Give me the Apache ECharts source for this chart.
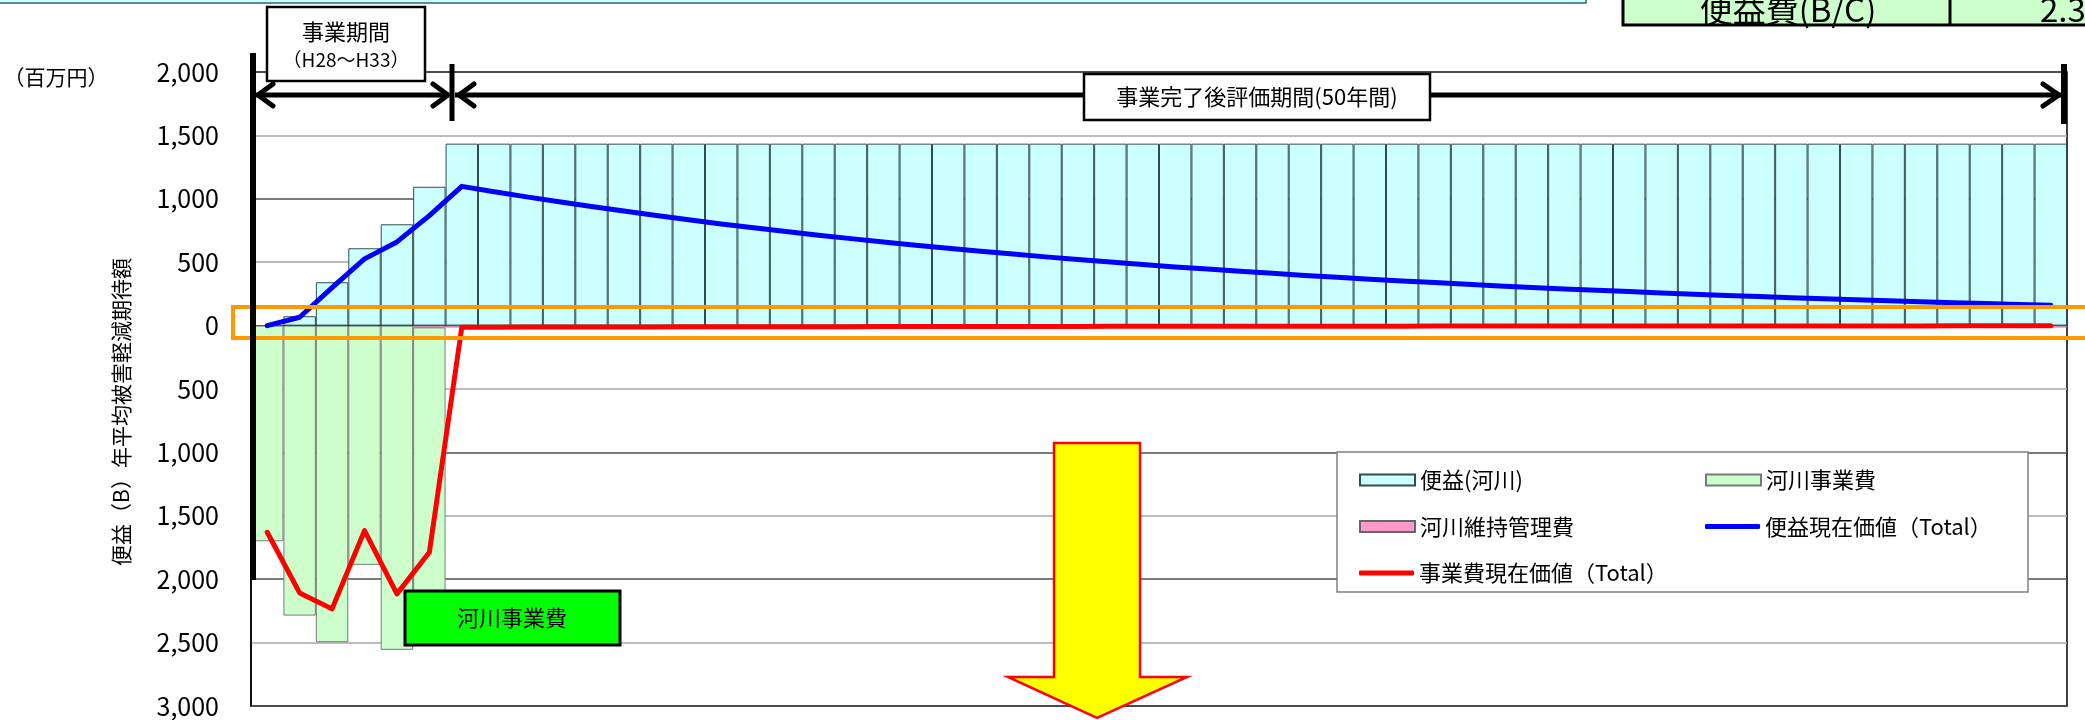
<!DOCTYPE html>
<html lang="ja">
<head>
<meta charset="utf-8">
<title>便益・費用の推移</title>
<script src="https://cdn.jsdelivr.net/npm/echarts@6/dist/echarts.min.js"></script>
<style>
  html, body { margin: 0; padding: 0; background: #ffffff; }
  #chart { width: 2085px; height: 720px; }
</style>
</head>
<body>
<div id="chart"></div>
<script>
// 年度（事業期間 H28～H33 の6年間 + 事業完了後評価期間 50年間）
const years = [
  'H28','H29','H30','H31','H32','H33','H34','H35','H36','H37',
  'H38','H39','H40','H41','H42','H43','H44','H45','H46','H47',
  'H48','H49','H50','H51','H52','H53','H54','H55','H56','H57',
  'H58','H59','H60','H61','H62','H63','H64','H65','H66','H67',
  'H68','H69','H70','H71','H72','H73','H74','H75','H76','H77',
  'H78','H79','H80','H81','H82','H83'
];

// 便益(河川)　年平均被害軽減期待額（百万円）
const benefitRiver = [
  0, 74, 342, 610, 799, 1095,
  1435, 1435, 1435, 1435, 1435, 1435, 1435, 1435, 1435, 1435,
  1435, 1435, 1435, 1435, 1435, 1435, 1435, 1435, 1435, 1435,
  1435, 1435, 1435, 1435, 1435, 1435, 1435, 1435, 1435, 1435,
  1435, 1435, 1435, 1435, 1435, 1435, 1435, 1435, 1435, 1435,
  1435, 1435, 1435, 1435, 1435, 1435, 1435, 1435, 1435, 1435
];

// 河川事業費（百万円）
const constructionCost = [
  1701, 2287, 2497, 1887, 2557, 2240,
  null, null, null, null, null, null, null, null, null, null,
  null, null, null, null, null, null, null, null, null, null,
  null, null, null, null, null, null, null, null, null, null,
  null, null, null, null, null, null, null, null, null, null,
  null, null, null, null, null, null, null, null, null, null
];

// 河川維持管理費（百万円）
const maintenanceCost = [
  null, null, null, null, null, 14,
  14, 14, 14, 14, 14, 14, 14, 14, 14, 14,
  14, 14, 14, 14, 14, 14, 14, 14, 14, 14,
  14, 14, 14, 14, 14, 14, 14, 14, 14, 14,
  14, 14, 14, 14, 14, 14, 14, 14, 14, 14,
  14, 14, 14, 14, 14, 14, 14, 14, 14, 14
];

// 便益現在価値（Total）
const benefitPV = [
  0, 66, 300, 526, 660, 867,
  1098, 1056, 1015, 976, 939, 903, 868, 834, 802, 771,
  742, 713, 686, 659, 634, 610, 586, 564, 542, 521,
  501, 482, 463, 446, 428, 412, 396, 381, 366, 352,
  339, 326, 313, 301, 289, 278, 268, 257, 247, 238,
  229, 220, 211, 203, 196, 188, 181, 174, 167, 161
];

// 事業費現在価値（Total）
const costPV = [
  1630, 2108, 2234, 1617, 2116, 1788,
  13, 12.5, 12.0, 11.6, 11.1, 10.7, 10.3, 9.9, 9.5, 9.1,
  8.8, 8.4, 8.1, 7.8, 7.5, 7.2, 6.9, 6.7, 6.4, 6.2,
  5.9, 5.7, 5.5, 5.3, 5.1, 4.9, 4.7, 4.5, 4.3, 4.2,
  4.0, 3.9, 3.7, 3.6, 3.4, 3.3, 3.2, 3.1, 2.9, 2.8,
  2.7, 2.6, 2.5, 2.4, 2.3, 2.2, 2.1, 2.0, 2.0, 1.9
];

// 縦軸の目盛（費用は下向きに描くので負側）
const yMin = -3000;
const yMax = 2000;
const yStep = 500;

// 費用は下向きに表示
const down = arr => arr.map(v => (v == null ? null : -v));

const FONT = "'Noto Sans CJK JP', 'Noto Sans CJK SC', sans-serif";

function fmtAbs(v) {
  const n = Math.abs(v);
  return String(n).replace(/\B(?=(\d{3})+(?!\d))/g, ',');
}

const chart = echarts.init(document.getElementById('chart'), null, { renderer: 'canvas' });

const lineBlack = (x1, y1, x2, y2, w) => ({
  type: 'line', z: 20,
  shape: { x1, y1, x2, y2 },
  style: { stroke: '#000', lineWidth: w, lineCap: 'butt' }
});
const head = (pts) => ({
  type: 'polyline', z: 20,
  shape: { points: pts },
  style: { stroke: '#000', fill: null, lineWidth: 5, lineCap: 'round', lineJoin: 'round' }
});

// 凡例（2列）: 棒の凡例と線の凡例を行ごとに配置
const legendText = { fontSize: 22, lineHeight: 24, color: '#000', fontFamily: FONT };
const rowTop = [463, 509.5, 556];
const colLeft = [1354, 1700];
const legendBox = (left, top, names, icon, h) => ({
  orient: 'vertical', left, top,
  itemWidth: 55, itemHeight: h, itemGap: 22.5,
  selectedMode: false, icon,
  textStyle: legendText,
  data: names
});

const option = {
  backgroundColor: '#ffffff',
  animation: false,
  textStyle: { fontFamily: FONT },
  grid: {
    left: 251, right: 18, top: 72, bottom: 14,
    show: true, borderColor: '#000', borderWidth: 1.5,
    backgroundColor: 'transparent',
    containLabel: false, outerBoundsMode: 'none'
  },
  xAxis: {
    type: 'category',
    data: years,
    boundaryGap: true,
    axisLine: { show: true, onZero: true, lineStyle: { color: '#000', width: 1 } },
    axisTick: { show: false },
    axisLabel: { show: false },
    splitLine: { show: false }
  },
  yAxis: {
    type: 'value',
    min: yMin, max: yMax, interval: yStep,
    axisLine: { show: true, lineStyle: { color: '#000', width: 1.5 } },
    axisTick: { show: false },
    axisLabel: {
      margin: 32, color: '#000', fontSize: 25, fontFamily: FONT,
      formatter: fmtAbs
    },
    splitLine: {
      show: true,
      lineStyle: { color: ['#505050', '#a6a6a6'], width: 1.5 }
    }
  },
  legend: [
    legendBox(colLeft[0], rowTop[0], ['便益(河川)', '河川維持管理費'], 'rect', 11),
    legendBox(colLeft[0], rowTop[2], ['事業費現在価値（Total）'], 'roundRect', 5),
    legendBox(colLeft[1], rowTop[0], ['河川事業費'], 'rect', 11),
    legendBox(colLeft[1], rowTop[1], ['便益現在価値（Total）'], 'roundRect', 5)
  ],
  series: [
    {
      name: '便益(河川)', type: 'bar', stack: 'total',
      barWidth: '100%', barCategoryGap: 0,
      data: benefitRiver,
      itemStyle: { color: '#ccffff', borderColor: '#2f4f4f', borderWidth: 1 }
    },
    {
      name: '河川維持管理費', type: 'bar', stack: 'total',
      barWidth: '100%', barCategoryGap: 0,
      data: down(maintenanceCost),
      itemStyle: { color: '#ff99cc', borderColor: '#666666', borderWidth: 0.5 }
    },
    {
      name: '河川事業費', type: 'bar', stack: 'total',
      barWidth: '100%', barCategoryGap: 0,
      data: down(constructionCost),
      itemStyle: { color: '#ccffcc', borderColor: '#7a7a7a', borderWidth: 1 }
    },
    {
      name: '便益現在価値（Total）', type: 'line',
      data: benefitPV, symbol: 'none', z: 5,
      lineStyle: { color: '#0000ff', width: 5, join: 'round', cap: 'round' },
      itemStyle: { color: '#0000ff', borderWidth: 0 }
    },
    {
      name: '事業費現在価値（Total）', type: 'line',
      data: down(costPV), symbol: 'none', z: 5,
      lineStyle: { color: '#ff0000', width: 5, join: 'round', cap: 'round' },
      itemStyle: { color: '#ff0000', borderWidth: 0 }
    }
  ],
  graphic: [
    // 上部の表（一部）
    { type: 'rect', z: 20, shape: { x: -5, y: -5, width: 1591, height: 8 },
      style: { fill: '#ccffff', stroke: '#336666', lineWidth: 1.5 } },
    { type: 'rect', z: 20, shape: { x: 1623, y: -5, width: 470, height: 30 },
      style: { fill: '#ccffcc', stroke: '#000', lineWidth: 3 } },
    lineBlack(1950, -5, 1950, 25, 3),
    { type: 'text', z: 21, x: 1788, y: 9,
      style: { text: '便益費(B/C)', font: '33px ' + FONT, fill: '#000', align: 'center', verticalAlign: 'middle' } },
    { type: 'text', z: 21, x: 2040, y: 9,
      style: { text: '2.3', font: '33px ' + FONT, fill: '#000', align: 'left', verticalAlign: 'middle' } },

    // 単位・軸名
    { type: 'text', z: 20, x: 56, y: 77,
      style: { text: '（百万円）', font: '21px ' + FONT, fill: '#000', align: 'center', verticalAlign: 'middle' } },
    { type: 'text', z: 20, x: 121, y: 412, rotation: Math.PI / 2,
      style: { text: '便益（B）年平均被害軽減期待額', font: '21px ' + FONT, fill: '#000', align: 'center', verticalAlign: 'middle' } },

    // 期間を示す縦線と矢印
    lineBlack(253, 53, 253, 580, 6),
    lineBlack(452, 64, 452, 121, 5),
    lineBlack(2064, 64, 2064, 124, 6),
    lineBlack(256, 95, 449, 95, 5),
    lineBlack(455, 95, 2061, 95, 5),
    head([[273, 84], [258, 95], [273, 106]]),
    head([[433, 84], [448, 95], [433, 106]]),
    head([[474, 84], [459, 95], [474, 106]]),
    head([[2043, 84], [2059, 95], [2043, 106]]),

    // 期間ラベル
    { type: 'rect', z: 21, shape: { x: 267, y: 7, width: 158, height: 74 },
      style: { fill: '#fff', stroke: '#000', lineWidth: 2.5 } },
    { type: 'text', z: 22, x: 346, y: 32,
      style: { text: '事業期間', font: '22px ' + FONT, fill: '#000', align: 'center', verticalAlign: 'middle' } },
    { type: 'text', z: 22, x: 346, y: 60,
      style: { text: '（H28～H33）', font: '19px ' + FONT, fill: '#000', align: 'center', verticalAlign: 'middle' } },
    { type: 'rect', z: 21, shape: { x: 1084, y: 74, width: 346, height: 46 },
      style: { fill: '#fff', stroke: '#000', lineWidth: 2.5 } },
    { type: 'text', z: 22, x: 1257, y: 97,
      style: { text: '事業完了後評価期間(50年間)', font: '22px ' + FONT, fill: '#000', align: 'center', verticalAlign: 'middle' } },

    // 0付近の強調枠
    { type: 'rect', z: 15, shape: { x: 233, y: 307, width: 1900, height: 31 },
      style: { fill: null, stroke: '#ff9900', lineWidth: 4 } },

    // 凡例の枠
    { type: 'rect', z: 3, shape: { x: 1337, y: 452, width: 691, height: 140 },
      style: { fill: '#fff', stroke: '#808080', lineWidth: 1.5 } },

    // 河川事業費のラベル
    { type: 'rect', z: 20, shape: { x: 405, y: 591, width: 215, height: 54 },
      style: { fill: '#00ff00', stroke: '#000', lineWidth: 3 } },
    { type: 'text', z: 21, x: 512, y: 618,
      style: { text: '河川事業費', font: '22px ' + FONT, fill: '#000', align: 'center', verticalAlign: 'middle' } },

    // 下向きの矢印
    { type: 'polygon', z: 20,
      shape: { points: [[1054, 443], [1140, 443], [1140, 677], [1187, 677], [1097, 718], [1008, 677], [1054, 677]] },
      style: { fill: '#ffff00', stroke: '#ff0000', lineWidth: 2.5, lineJoin: 'miter' } }
  ]
};

chart.setOption(option);
</script>
</body>
</html>
